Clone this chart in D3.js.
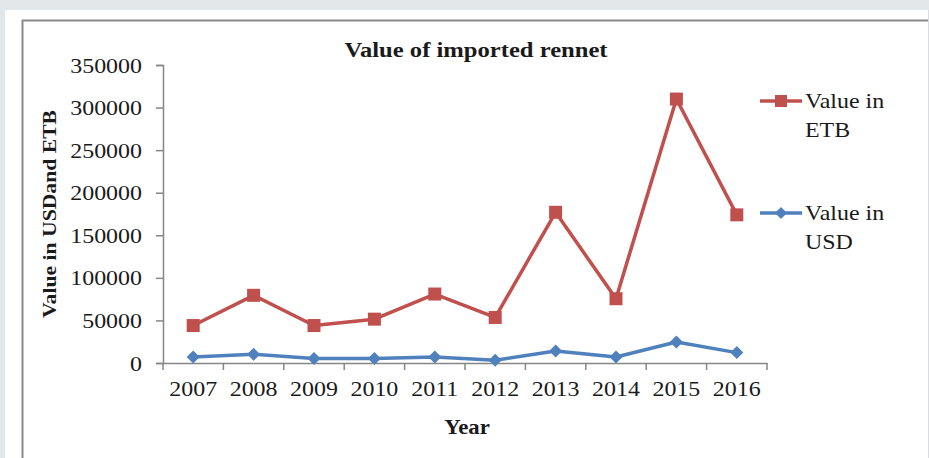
<!DOCTYPE html>
<html><head><meta charset="utf-8">
<script src="https://cdn.jsdelivr.net/npm/d3@7"></script>
<style>
html,body{margin:0;padding:0;background:#e3e7e9;}
svg{display:block;}
text{font-family:"Liberation Serif","Times New Roman",serif;fill:#1a1a1a;}
</style></head>
<body>
<svg id="c" width="929" height="458"></svg>
<script>
const years = ["2007","2008","2009","2010","2011","2012","2013","2014","2015","2016"];
const valueETB = [44000, 79500, 44000, 51500, 81000, 53500, 177000, 75500, 310000, 174000];
const valueUSD = [7000, 10200, 5200, 5200, 7000, 3200, 14100, 7000, 24700, 12200];
const yTicks = [0, 50000, 100000, 150000, 200000, 250000, 300000, 350000];
const seriesNames = ["Value in ETB", "Value in USD"];

const svg = d3.select("#c");
// white panel
svg.append("rect").attr("x",5).attr("y",10).attr("width",924).attr("height",448).attr("fill","#fff");
// chart border
svg.append("path").attr("d","M22.5,470 V20.5 H935").attr("fill","none").attr("stroke","#8a8a8a").attr("stroke-width",2);
svg.append("line").attr("x1",928.5).attr("x2",928.5).attr("y1",10).attr("y2",458).attr("stroke","#d8dcde").attr("stroke-width",1);

const STRETCH = 1.14;
function stretch(sel, factor){
  const f = factor || STRETCH;
  sel.each(function(){
    const w = this.getComputedTextLength();
    d3.select(this).attr("textLength", w*f).attr("lengthAdjust","spacingAndGlyphs");
  });
}

const x0 = 163, x1 = 767, yTop = 65, yBot = 363;
const x = d3.scaleBand().domain(years).range([x0, x1]).padding(0);
const y = d3.scaleLinear().domain([0, 350000]).range([yBot, yTop]);

// Y axis
const gy = svg.append("g").attr("transform",`translate(${x0},0)`)
  .call(d3.axisLeft(y).tickValues(yTicks).tickSize(7).tickPadding(14).tickFormat(d3.format("d")));
gy.select(".domain").attr("stroke","#868686").attr("stroke-width",1.5);
gy.selectAll(".tick line").attr("stroke","#868686").attr("stroke-width",1.5);
gy.selectAll(".tick text").attr("font-size",21).attr("font-family","Liberation Serif").attr("fill","#1a1a1a").attr("dy","0.34em").call(stretch);

// X axis
const gx = svg.append("g").attr("transform",`translate(0,${yBot})`)
  .call(d3.axisBottom(x).tickSize(0).tickPadding(18));
gx.select(".domain").attr("stroke","#868686").attr("stroke-width",1.5);
gx.selectAll(".tick text").attr("font-size",21).attr("font-family","Liberation Serif").attr("fill","#1a1a1a").call(stretch);
// boundary tick marks
const bounds = years.map(d => x(d)).concat([x1]);
gx.selectAll(".btick").data(bounds).enter().append("line")
  .attr("x1",d=>d).attr("x2",d=>d).attr("y1",0).attr("y2",7)
  .attr("stroke","#868686").attr("stroke-width",1.5);

const cx = d => x(d) + x.bandwidth()/2;
const line = d3.line().x((d,i)=>cx(years[i])).y(d=>y(d));

const RED = "#c0504d", BLUE = "#4f81bd";
// USD series
svg.append("path").datum(valueUSD).attr("d",line).attr("fill","none").attr("stroke",BLUE).attr("stroke-width",3.5).attr("stroke-linejoin","round");
const diamond = s => `M0,${-s} L${s},0 L0,${s} L${-s},0 Z`;
svg.selectAll(".usd").data(valueUSD).enter().append("path")
  .attr("d",diamond(6.5)).attr("transform",(d,i)=>`translate(${cx(years[i])},${y(d)})`).attr("fill",BLUE);
// ETB series
svg.append("path").datum(valueETB).attr("d",line).attr("fill","none").attr("stroke",RED).attr("stroke-width",3.5).attr("stroke-linejoin","round");
svg.selectAll(".etb").data(valueETB).enter().append("rect")
  .attr("x",(d,i)=>cx(years[i])-6.5).attr("y",d=>y(d)-6.5).attr("width",13).attr("height",13).attr("fill",RED);

// Title
svg.append("text").attr("x",476).attr("y",57).attr("text-anchor","middle").attr("font-size",20).attr("font-weight","bold").text("Value of imported rennet").call(stretch, 1.23);
// Y title
svg.append("text").attr("transform","translate(56,214) rotate(-90)").attr("text-anchor","middle").attr("font-size",19).attr("font-weight","bold").text("Value in USDand ETB").call(stretch);
// X title
svg.append("text").attr("x",467).attr("y",434).attr("text-anchor","middle").attr("font-size",20).attr("font-weight","bold").text("Year").call(stretch);

// Legend
const legend = [
  {name: seriesNames[0], color: RED, marker: "square", y: 101},
  {name: seriesNames[1], color: BLUE, marker: "diamond", y: 213}
];
legend.forEach(l => {
  const g = svg.append("g");
  g.append("line").attr("x1",760).attr("x2",802).attr("y1",l.y).attr("y2",l.y).attr("stroke",l.color).attr("stroke-width",3.5);
  if (l.marker === "square") g.append("rect").attr("x",781-6).attr("y",l.y-6).attr("width",12).attr("height",12).attr("fill",l.color);
  else g.append("path").attr("d",diamond(6)).attr("transform",`translate(781,${l.y})`).attr("fill",l.color);
  const parts = l.name.split(" ");
  g.append("text").attr("x",805).attr("y",l.y+7).attr("font-size",21).text(parts[0]+" "+parts[1]).call(stretch);
  g.append("text").attr("x",805).attr("y",l.y+36).attr("font-size",21).text(parts[2]).call(stretch);
});
</script>
</body></html>
